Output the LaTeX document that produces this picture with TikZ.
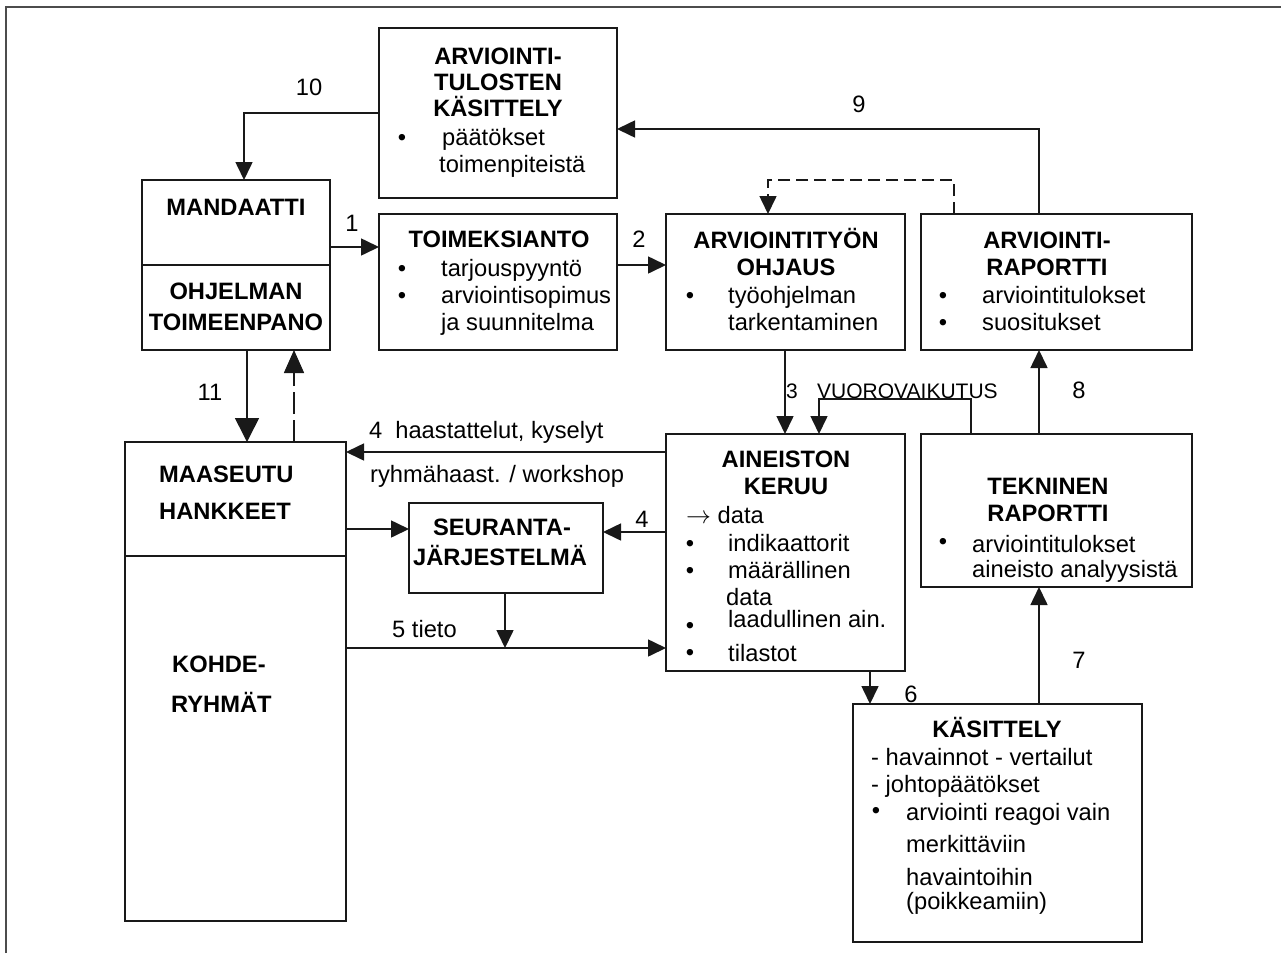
\documentclass[tikz,border=0pt]{standalone}
\usepackage{fontspec}
\setmainfont{Liberation Sans}
\usetikzlibrary{arrows.meta}
\newcommand\txtsize{\fontsize{23.7pt}{27pt}\selectfont}
\newcommand\smsize{\fontsize{21pt}{24pt}\selectfont}
\tikzset{
  box/.style={draw=black!90, line width=1.9pt, inner sep=0pt, outer sep=0pt, anchor=north west},
  divider/.style={draw=black!90, line width=1.9pt},
  head/.style={anchor=base, inner sep=0pt, font=\txtsize\bfseries},
  headl/.style={anchor=base west, inner sep=0pt, font=\txtsize\bfseries},
  txt/.style={anchor=base west, inner sep=0pt, font=\txtsize},
  smtxt/.style={anchor=base west, inner sep=0pt, font=\smsize},
  blt/.style={anchor=base, inner sep=0pt, font=\txtsize},
  lbl/.style={anchor=base, inner sep=0pt, font=\txtsize},
  arr/.style={draw=black!90, line width=1.6pt, -{Triangle[length=18pt,width=17pt]}},
  bigarr/.style={draw=black!90, line width=1.6pt, -{Triangle[length=24pt,width=24pt]}},
  dsh/.style={arr, dash pattern=on 12pt off 6pt},
}

\begin{document}
\begin{tikzpicture}[x=1pt, y=-1pt]
\useasboundingbox (0,0) rectangle (1281,953);
% frame
\draw[black!70, line width=2pt] (6,953) -- (6,7) -- (1281,7);

% boxes
\node[box, minimum width=238pt, minimum height=170pt] (res) at (379,28) {};
\node[box, minimum width=188pt, minimum height=170pt] (man) at (142,180) {};
\node[box, minimum width=238pt, minimum height=136pt] (toim) at (379,214) {};
\node[box, minimum width=239pt, minimum height=136pt] (ohj) at (666,214) {};
\node[box, minimum width=271pt, minimum height=136pt] (rap) at (921,214) {};
\node[box, minimum width=221pt, minimum height=479pt] (maa) at (125,442) {};
\node[box, minimum width=194pt, minimum height=90pt] (seu) at (409,503) {};
\node[box, minimum width=239pt, minimum height=237pt] (ain) at (666,434) {};
\node[box, minimum width=271pt, minimum height=153pt] (tek) at (921,434) {};
\node[box, minimum width=289pt, minimum height=238pt] (kas) at (853,704) {};
\draw[divider] (man.west |- 0,265) -- (man.east |- 0,265);
\draw[divider] (maa.west |- 0,556) -- (maa.east |- 0,556);

% arviointitulosten kasittely
\node[head] (res-h1) at (498,64) {ARVIOINTI-};
\node[head] (res-h2) at (498,90) {TULOSTEN};
\node[head] (res-h3) at (498,116) {KÄSITTELY};
\node[blt] (res-b1) at (402,145) {\textbullet};
\node[txt] (res-t1) at (442,145) {päätökset};
\node[txt] (res-t2) at (439,172) {toimenpiteistä};

% mandaatti / ohjelman toimeenpano
\node[head] (man-h1) at (236,215) {MANDAATTI};
\node[head] (man-h2) at (236,299) {OHJELMAN};
\node[head] (man-h3) at (236,330) {TOIMEENPANO};

% toimeksianto
\node[head] (toim-h) at (499,247) {TOIMEKSIANTO};
\foreach \yy [count=\i] in {276,303}
  \node[blt] (toim-b\i) at (402,\yy) {\textbullet};
\node[txt] (toim-t1) at (441,276) {tarjouspyyntö};
\node[txt] (toim-t2) at (441,303) {arviointisopimus};
\node[txt] (toim-t3) at (441,330) {ja suunnitelma};

% arviointityon ohjaus
\node[head] (ohj-h1) at (786,248) {ARVIOINTITYÖN};
\node[head] (ohj-h2) at (786,275) {OHJAUS};
\node[blt] (ohj-b1) at (690,303) {\textbullet};
\node[txt] (ohj-t1) at (728,303) {työohjelman};
\node[txt] (ohj-t2) at (728,330) {tarkentaminen};

% arviointiraportti
\node[head] (rap-h1) at (1047,248) {ARVIOINTI-};
\node[head] (rap-h2) at (1047,275) {RAPORTTI};
\foreach \yy [count=\i] in {303,330}
  \node[blt] (rap-b\i) at (943,\yy) {\textbullet};
\node[txt] (rap-t1) at (982,303) {arviointitulokset};
\node[txt] (rap-t2) at (982,330) {suositukset};

% maaseutuhankkeet / kohderyhmat
\node[headl] (maa-h1) at (159,482) {MAASEUTU};
\node[headl] (maa-h2) at (159,519) {HANKKEET};
\node[headl] (maa-h3) at (172,672) {KOHDE-};
\node[headl] (maa-h4) at (171,712) {RYHMÄT};

% seurantajarjestelma
\node[head] (seu-h1) at (502,535) {SEURANTA-};
\node[head] (seu-h2) at (500,565) {JÄRJESTELMÄ};

% aineiston keruu
\node[head] (ain-h1) at (786,467) {AINEISTON};
\node[head] (ain-h2) at (786,494) {KERUU};
\node[txt] (ain-t0) at (686,523) {$\rightarrow$ data};
\foreach \yy [count=\i] in {551,578,633,660}
  \node[blt] (ain-b\i) at (690,\yy) {\textbullet};
\node[txt] (ain-t1) at (728,551) {indikaattorit};
\node[txt] (ain-t2) at (728,578) {määrällinen};
\node[txt] (ain-t3) at (726,605) {data};
\node[txt] (ain-t4) at (728,627) {laadullinen ain.};
\node[txt] (ain-t5) at (728,661) {tilastot};

% tekninen raportti
\node[head] (tek-h1) at (1048,494) {TEKNINEN};
\node[head] (tek-h2) at (1048,521) {RAPORTTI};
\node[blt] (tek-b1) at (943,549) {\textbullet};
\node[txt] (tek-t1) at (972,552) {arviointitulokset};
\node[txt] (tek-t2) at (972,577) {aineisto analyysistä};

% kasittely
\node[head] (kas-h) at (997,737) {KÄSITTELY};
\node[txt] (kas-t1) at (871,765) {- havainnot - vertailut};
\node[txt] (kas-t2) at (871,792) {- johtopäätökset};
\node[blt] (kas-b1) at (876,818) {\textbullet};
\node[txt] (kas-t3) at (906,820) {arviointi reagoi vain};
\node[txt] (kas-t4) at (906,852) {merkittäviin};
\node[txt] (kas-t5) at (906,885) {havaintoihin};
\node[txt] (kas-t6) at (906,909) {(poikkeamiin)};

% connectors
\draw[arr] (res.west |- 0,113) -| (244,0 |- man.north);
\node[lbl] (l10) at (309,95) {10};
\draw[arr] (man.east |- 0,247) -- (toim.west |- 0,247);
\node[lbl] (l1) at (352,231) {1};
\draw[arr] (toim.east |- 0,265) -- (ohj.west |- 0,265);
\node[lbl] (l2) at (639,247) {2};
\draw[arr] (rap.north -| 1039,0) |- (res.east |- 0,129);
\node[lbl] (l9) at (859,112) {9};
\draw[dsh] (rap.north -| 954,0) -- ++(0,-34) -| (ohj.north -| 768,0);
\draw[bigarr] (man.south -| 247,0) -- (maa.north -| 247,0);
\node[lbl] (l11) at (210,400) {11};
\draw[arr, -{Triangle[length=23pt,width=20pt]}, dash pattern=on 22pt off 6pt] (maa.north -| 294,0) -- (man.south -| 294,0);
\draw[arr] (ohj.south -| 785,0) -- (ain.north -| 785,0);
\node[lbl, font=\smsize] (l3) at (792,398) {3};
\node[smtxt] (vuoro) at (817,398) {VUOROVAIKUTUS};
\draw[arr] (tek.north -| 971,0) -- ++(0,-35) -| (ain.north -| 819,0);
\draw[arr] (tek.north -| 1039,0) -- (rap.south -| 1039,0);
\node[lbl] (l8) at (1079,398) {8};
\draw[arr] (kas.north -| 1039,0) -- (tek.south -| 1039,0);
\node[lbl] (l7) at (1079,668) {7};
\draw[arr] (ain.south -| 870,0) -- (kas.north -| 870,0);
\node[lbl] (l6) at (911,702) {6};
\draw[arr] (ain.west |- 0,452) -- (maa.east |- 0,452);
\node[txt] (l4a) at (369,438) {4\hspace{13pt}haastattelut, kyselyt};
\node[txt] (l4b) at (370,482) {ryhmähaast. / workshop};
\draw[arr] (maa.east |- 0,529) -- (seu.west |- 0,529);
\draw[arr] (ain.west |- 0,532) -- (seu.east |- 0,532);
\node[lbl] (l4c) at (642,527) {4};
\coordinate (tj) at (505,648);
\draw[arr] (seu.south -| tj) -- (tj);
\draw[arr] (maa.east |- tj) -- (ain.west |- tj);
\node[txt] (l5) at (392,637) {5 tieto};
\end{tikzpicture}
\end{document}
